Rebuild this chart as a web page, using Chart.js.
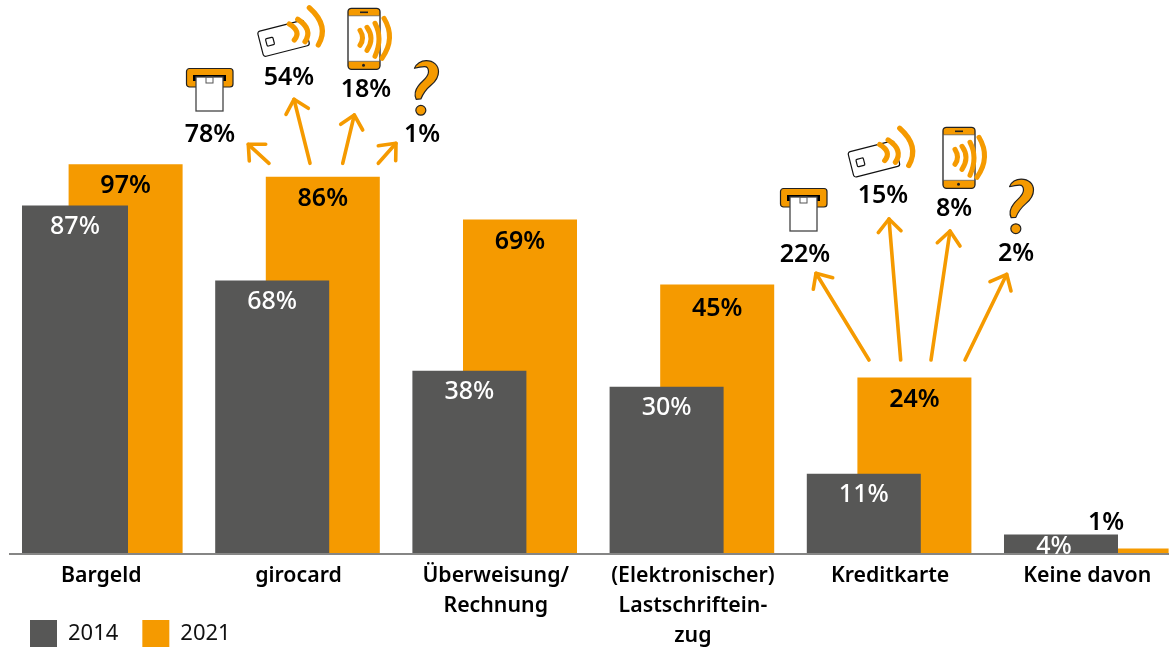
<!DOCTYPE html>
<html lang="de">
<head>
<meta charset="utf-8">
<title>Zahlungsmittel 2014 und 2021</title>
<script src="https://cdn.jsdelivr.net/npm/chart.js@4"></script>
<style>
html,body{margin:0;padding:0;background:#fff;overflow:hidden}
#wrap{width:1169px;height:647px;overflow:hidden;position:relative}
canvas{display:block}
</style>
</head>
<body>
<div id="wrap"><canvas id="c" width="1185" height="647"></canvas></div>
<script>
// Kategorien und Reihen
const categories = ['Bargeld','girocard',['Überweisung/','Rechnung'],['(Elektronischer)','Lastschriftein-','zug'],'Kreditkarte','Keine davon'];
const seriesNames = ['2014','2021'];
// Balkenhöhen, wie sie im Bild gezeichnet sind
const barHeights2014 = [86.7,68,45.5,41.5,19.8,4.6];
const barHeights2021 = [97,93.9,83.2,67,43.8,1.1];
// Aufgedruckte Werte
const printed2014 = [87,68,38,30,11,4];
const printed2021 = [97,86,69,45,24,1];
// Aufteilung: Karte im Terminal, kontaktlos Karte, Smartphone, unbekannt
const girocardSplit = [78,54,18,1];
const kreditkarteSplit = [22,15,8,2];

const GREY='#575756', ORANGE='#F59A00', F='"Noto Sans"';

function lineP(ctx,p){ctx.beginPath();ctx.moveTo(p[0],p[1]);for(let i=2;i<p.length;i+=2)ctx.lineTo(p[i],p[i+1]);ctx.stroke();}
function arrow(ctx,a){
  ctx.save();ctx.strokeStyle=ORANGE;ctx.lineWidth=3.6;ctx.lineCap='round';ctx.lineJoin='round';
  lineP(ctx,[a[0],a[1],a[2],a[3]]);lineP(ctx,[a[4],a[5],a[2],a[3],a[6],a[7]]);ctx.restore();
}
function rr(ctx,x,y,w,h,r){ctx.beginPath();ctx.roundRect(x,y,w,h,r);}
function terminal(ctx,x,y){
  ctx.save();ctx.translate(x,y);
  rr(ctx,0.5,0.5,46.5,18.5,3);ctx.fillStyle=ORANGE;ctx.fill();ctx.strokeStyle='#222';ctx.lineWidth=1.2;ctx.stroke();
  ctx.fillStyle='#000';ctx.fillRect(7,7,33,6);
  ctx.fillStyle='#fff';ctx.strokeStyle='#444';ctx.lineWidth=1.3;ctx.fillRect(10,9,27,34);ctx.strokeRect(10,9,27,34);
  ctx.strokeStyle='#555';ctx.lineWidth=1;ctx.strokeRect(20,9,7,6);
  ctx.restore();
}
function waves(ctx,list,w){
  ctx.save();ctx.strokeStyle=ORANGE;ctx.lineWidth=w;ctx.lineCap='round';
  list.forEach(q=>{ctx.beginPath();ctx.moveTo(q[0],q[1]);ctx.quadraticCurveTo(q[2],q[3],q[4],q[5]);ctx.stroke();});
  ctx.restore();
}
function card(ctx,x,y){
  ctx.save();ctx.translate(x,y);
  ctx.strokeStyle='#111';ctx.lineWidth=1.2;ctx.fillStyle='#fff';
  ctx.save();ctx.rotate(-0.25);rr(ctx,0,0,47.5,26,2.5);ctx.fill();ctx.stroke();ctx.restore();
  ctx.save();ctx.translate(12.7,10);ctx.rotate(-0.26);rr(ctx,-3.8,-3.8,7.6,7.6,1.2);ctx.stroke();ctx.restore();
  waves(ctx,[[32,-7.7,44.3,-0.3,37,8.3],[40.4,-12.4,56,-2.2,47.7,10],[52,-24,72.3,-6,61,13.3]],5.2);
  ctx.restore();
}
function phone(ctx,x,y){
  ctx.save();ctx.translate(x,y);
  rr(ctx,0,0,32,61,3.5);ctx.fillStyle='#fff';ctx.fill();
  ctx.save();ctx.clip();ctx.fillStyle=ORANGE;ctx.fillRect(0,0,32,7.5);ctx.fillRect(0,53,32,8);ctx.restore();
  ctx.strokeStyle='#222';ctx.lineWidth=1.3;rr(ctx,0,0,32,61,3.5);ctx.stroke();
  ctx.strokeStyle='#555';ctx.lineWidth=.7;ctx.beginPath();ctx.moveTo(0,7.5);ctx.lineTo(32,7.5);ctx.moveTo(0,53);ctx.lineTo(32,53);ctx.stroke();
  ctx.fillStyle='#222';ctx.fillRect(12,3.2,8,1.6);ctx.beginPath();ctx.arc(15.5,57,1.5,0,7);ctx.fill();
  waves(ctx,[[12,22,17,30,12,37],[19,19,27,30,19,42],[27,15,35,30,27,48],[36,10,48,30,34,50]],5);
  ctx.restore();
}
function question(ctx,x,y){
  ctx.save();ctx.translate(x,y);ctx.scale(1/3,1/3);
  const p=new Path2D('M0 0 C5 -14 20 -23 35 -23 C58 -23 72 -8 72 10 C72 28 62 40 50 50 C38 60 28 70 19 92 L5 93 C-1 80 2 65 12 52 C22 38 42 28 42 10 C42 0 38 -5 30 -5 C20 -5 10 -3 0 0Z');
  ctx.fillStyle=ORANGE;ctx.strokeStyle='#222';ctx.lineWidth=3.6;ctx.lineJoin='round';ctx.fill(p);ctx.stroke(p);
  ctx.beginPath();ctx.ellipse(19,126,15,14.5,0,0,7);ctx.fill();ctx.stroke();
  ctx.restore();
}

const overlay = {
  id:'overlay',
  afterLayout(chart){
    const s=chart.scales.x; s.bottom=647; s.height=s.bottom-s.top;
  },
  afterDatasetsUpdate(chart){
    const b=chart.getDatasetMeta(0).data[0]; b.width=106;
  },
  beforeDatasetsDraw(chart){
    const {ctx,chartArea,scales}=chart;
    const y=scales.y.getPixelForValue(0);
    ctx.save();ctx.strokeStyle='#868685';ctx.lineWidth=2;ctx.beginPath();ctx.moveTo(9,y+1);ctx.lineTo(chartArea.right,y+1);ctx.stroke();ctx.restore();
  },
  afterDatasetsDraw(chart){
    const {ctx}=chart;
    const m0=chart.getDatasetMeta(0).data, m1=chart.getDatasetMeta(1).data;
    ctx.save();ctx.textAlign='center';ctx.textBaseline='middle';ctx.font='600 25px '+F;
    const txt=(t,x,y,c)=>{ctx.fillStyle=c;ctx.fillText(t,x,y+2);};
    printed2021.forEach((v,i)=>{
      const e=m1[i];
      if(i===5) txt(v+'%',e.x-5.5,520.5,'#000');
      else txt(v+'%',e.x,e.y+(i===3?22:20),'#000');
    });
    ctx.font='500 25px '+F;
    printed2014.forEach((v,i)=>{
      const e=m0[i];
      if(i===5) txt(v+'%',e.x-7,e.y+10,'#fff'); else txt(v+'%',e.x,e.y+19,'#fff');
    });
    ctx.font='600 25px '+F;
    const pos1=[[210,133],[289,76],[366,88],[422,133]];
    const pos2=[[805,253],[883,194],[954,207],[1016,252]];
    girocardSplit.forEach((v,i)=>txt(v+'%',pos1[i][0],pos1[i][1],'#000'));
    kreditkarteSplit.forEach((v,i)=>txt(v+'%',pos2[i][0],pos2[i][1],'#000'));
    ctx.restore();
    [[269,163.3,248.3,144.3,249.3,161,265.7,144.3],[310,163.3,294,99.3,286,114.3,308.3,108.3],[342.7,163.3,354.3,115,340.7,124.3,362.7,130],[378.3,163.3,396,143.3,378.3,145.7,395.7,160.7],
     [869,360,816,273.3,813.3,289.3,832.7,277.7],[900.7,360,889,219,878.3,232.7,901,230.7],[931,360,950,231,937.3,242.7,960,246],[965,360,1006.7,274.3,990,281.7,1011,291]].forEach(a=>arrow(ctx,a));
    terminal(ctx,186,68);terminal(ctx,780,188);
    card(ctx,257.3,31.7);card(ctx,847.7,152.3);
    phone(ctx,348,8.3);phone(ctx,943,127.3);
    question(ctx,414.5,68.3);question(ctx,1009.5,186.7);
  },
  beforeDraw(chart){
    const l=chart.legend; l.left=6; l.top=596;
  }
};

new Chart(document.getElementById('c'),{
  type:'bar',
  data:{labels:categories,datasets:[
    {label:seriesNames[0],data:barHeights2014,backgroundColor:GREY,categoryPercentage:0.5132,barPercentage:2.253},
    {label:seriesNames[1],data:barHeights2021,backgroundColor:ORANGE,categoryPercentage:0.5132,barPercentage:2.253}
  ]},
  options:{
    responsive:false,animation:false,
    layout:{padding:{left:1.7,right:0.1,top:0,bottom:0}},
    plugins:{
      tooltip:{enabled:false},
      legend:{display:true,position:'bottom',align:'start',
        labels:{boxWidth:27,boxHeight:27,padding:24,color:'#111',font:{family:F,size:22,weight:'400'}}}
    },
    scales:{
      x:{grid:{display:false},border:{display:false},
        ticks:{color:'#000',autoSkip:false,maxRotation:0,minRotation:0,padding:0,labelOffset:1,font:{family:F,size:21.3,weight:'600',lineHeight:30/21.3}},
        afterFit(s){s.height=33;}},
      y:{display:false,min:0,max:138}
    }
  },
  plugins:[overlay]
});
</script>
</body>
</html>
